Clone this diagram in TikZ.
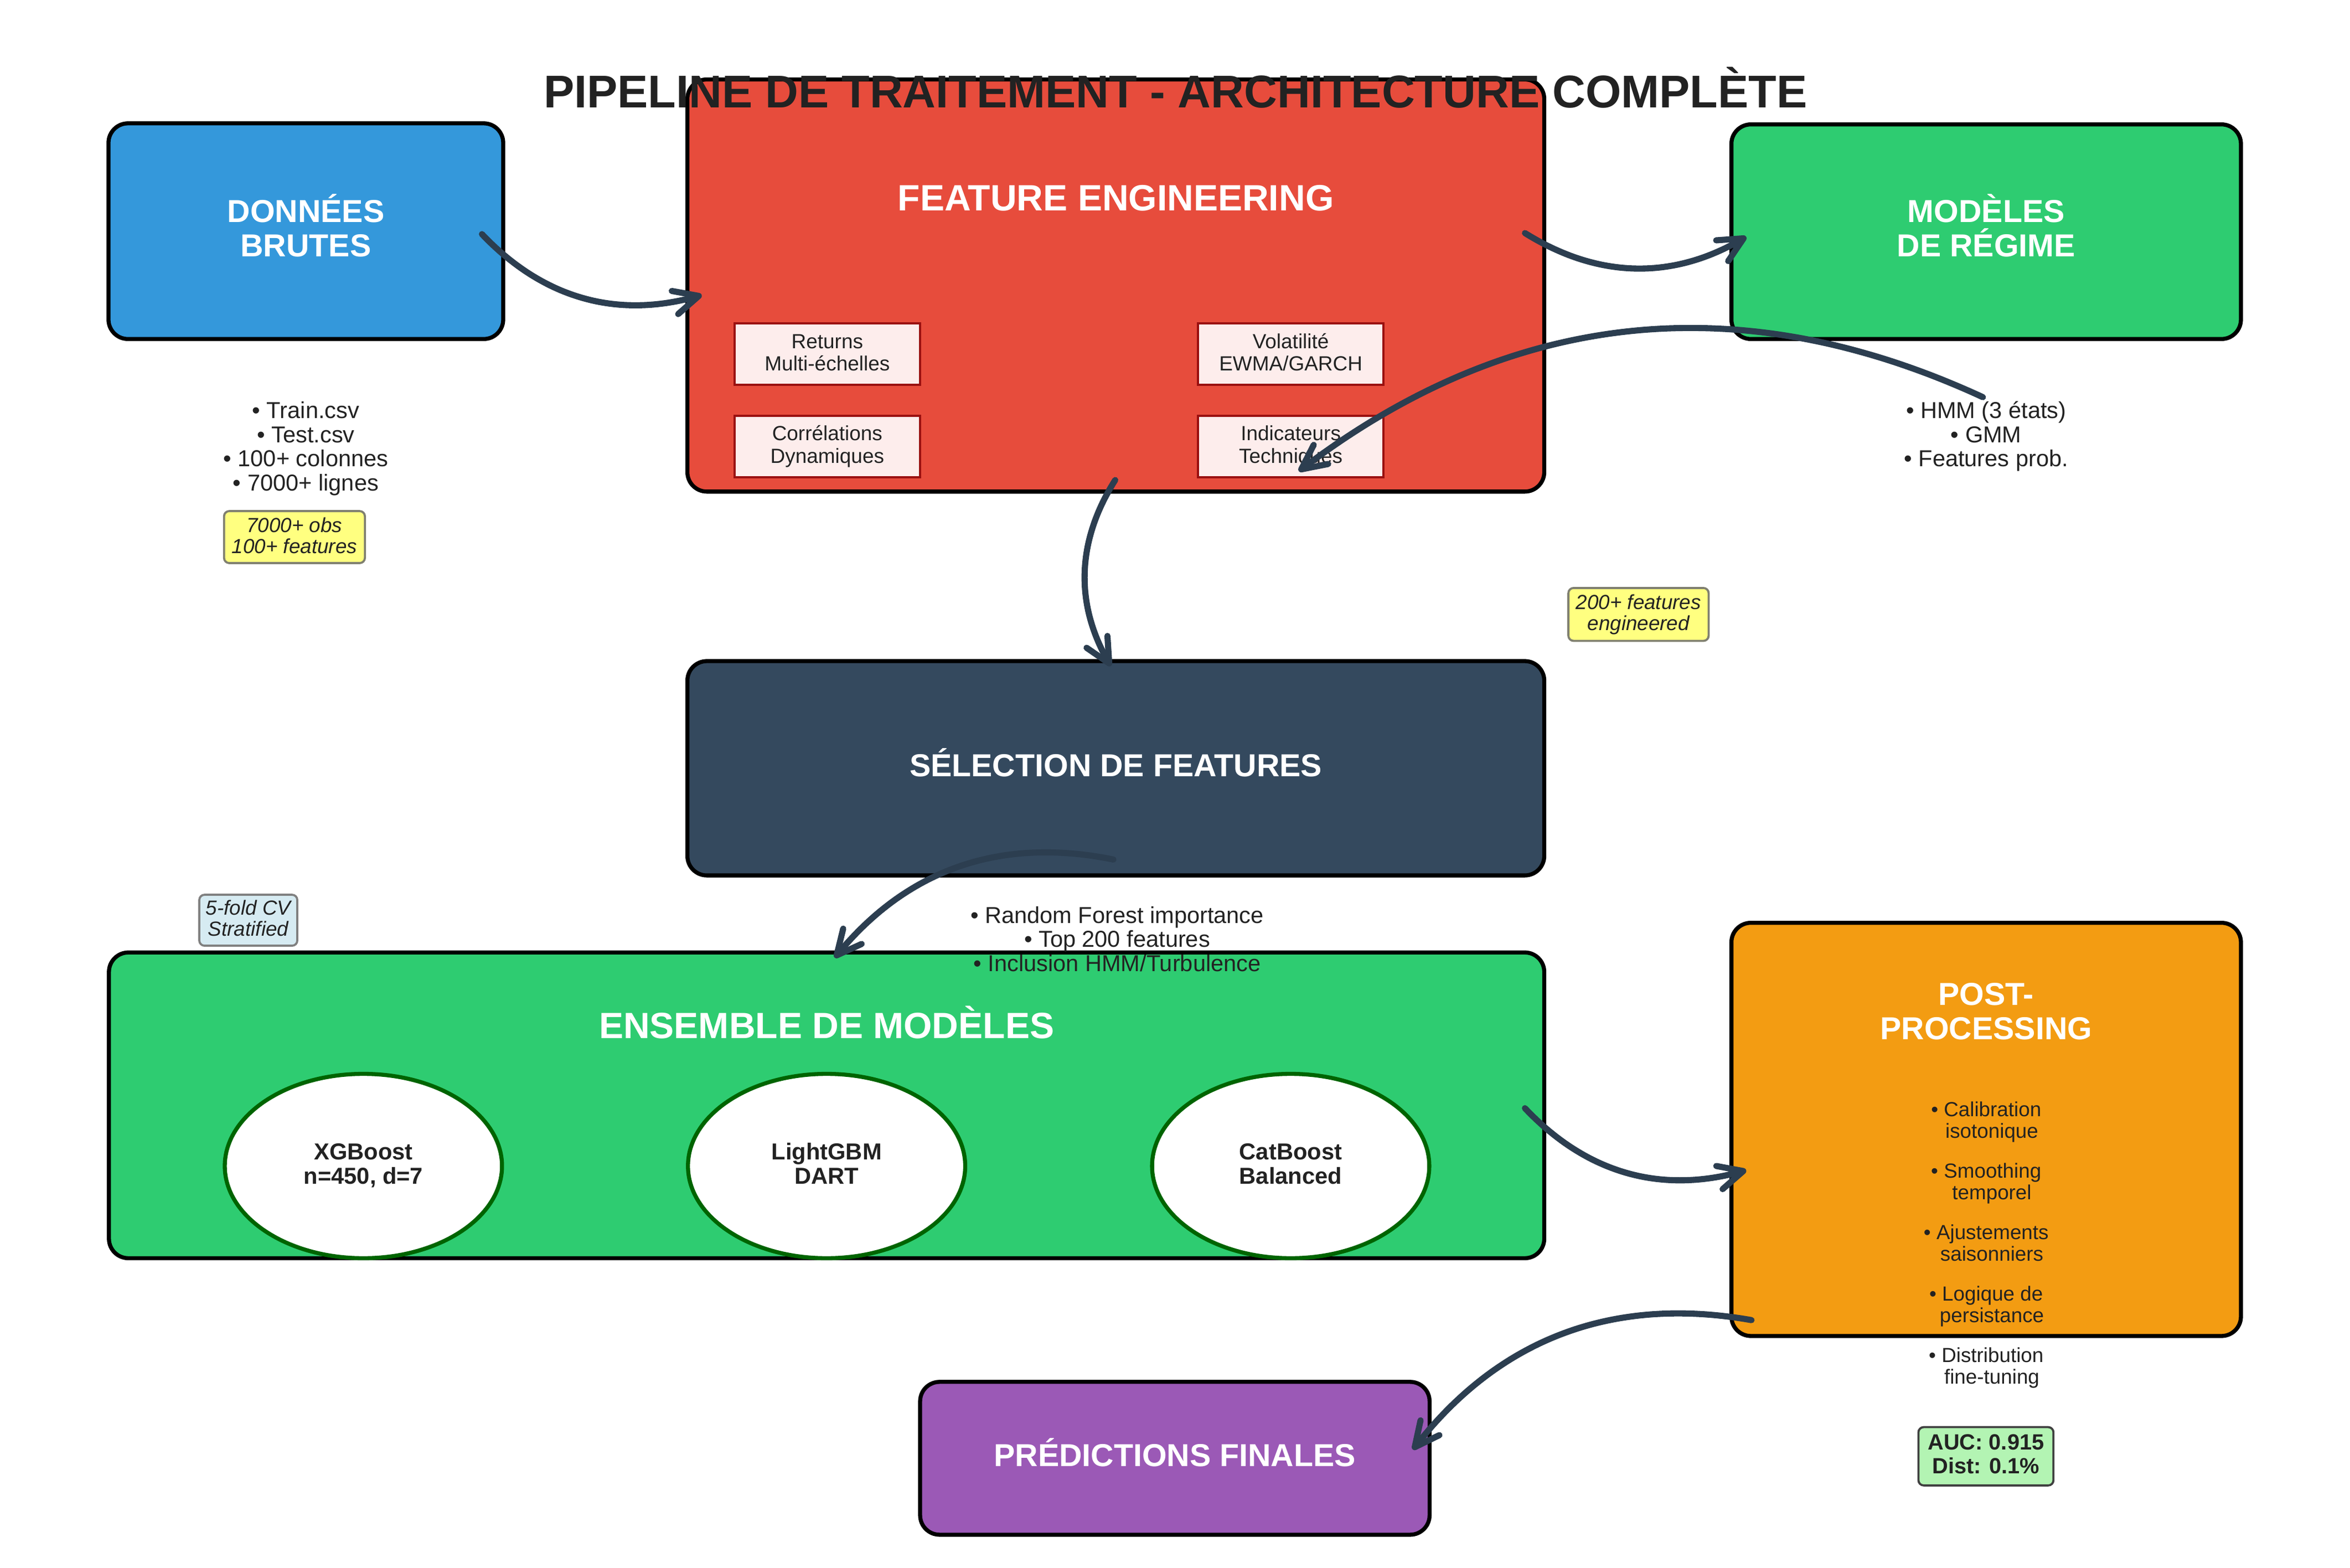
\documentclass[tikz,border=0pt]{standalone}
\usepackage{fontspec}
\setmainfont{Liberation Sans}
\usetikzlibrary{arrows.meta,calc,shapes.geometric}

\definecolor{cblue}{HTML}{3498DB}
\definecolor{cred}{HTML}{E74C3C}
\definecolor{cgreen}{HTML}{2ECC71}
\definecolor{cdark}{HTML}{34495E}
\definecolor{corange}{HTML}{F39C12}
\definecolor{cpurple}{HTML}{9B59B6}
\definecolor{carrow}{HTML}{2C3E50}
\definecolor{ctext}{HTML}{222222}
\definecolor{csubfill}{HTML}{FDEDEC}
\definecolor{csubline}{HTML}{9A1010}
\definecolor{cyellow}{HTML}{FFFF80}
\definecolor{cyline}{HTML}{808070}
\definecolor{cbluenote}{HTML}{D6EBF2}
\definecolor{cbluenoteline}{HTML}{808080}
\definecolor{cgreennote}{HTML}{B3F4B3}
\definecolor{cgreennoteline}{HTML}{404040}
\definecolor{cdkgreen}{HTML}{006400}

\newcommand\myfs[2]{\fontsize{#1pt}{#2pt}\selectfont\lineskiplimit=-100pt\lineskip=0pt\relax}

\tikzset{
  box/.style={draw=black, line width=2.7pt, rounded corners=13pt, inner sep=0pt},
  subbox/.style={draw=csubline, fill=csubfill, line width=1.4pt, inner sep=0pt,
                 minimum width=123.7pt, minimum height=41.2pt},
  model/.style={ellipse, draw=cdkgreen, fill=white, line width=2.7pt, inner sep=0pt,
                minimum width=185pt, minimum height=123pt},
  note/.style={draw=cyline, fill=cyellow, line width=1.4pt, rounded corners=3.5pt, inner sep=0pt},
  lbl/.style={text=ctext, align=center, inner sep=0pt, anchor=base},
  ttltxt/.style={font=\myfs{30.6}{33}\bfseries},
  bigtxt/.style={text=white, font=\myfs{24.4}{26}\bfseries},
  boxtxt/.style={text=white, font=\myfs{21.2}{23}\bfseries},
  subtxt/.style={font=\myfs{13.65}{14.85}},
  anntxt/.style={font=\myfs{15.36}{16.1}},
  notetxt/.style={font=\myfs{13.6}{14.1}\itshape},
  elltxt/.style={font=\myfs{15.4}{16.3}\bfseries},
  itemtxt/.style={font=\myfs{13.6}{14.1}},
  auctxt/.style={font=\myfs{14.7}{15.9}\bfseries},
  arc3/.style={to path={
      let \p1=(\tikztostart), \p2=(\tikztotarget),
          \n1={((\x1)+(\x2))/2+#1*((\y2)-(\y1))},
          \n2={((\y1)+(\y2))/2-#1*((\x2)-(\x1))}
      in .. controls ({(\x1)+2/3*((\n1)-(\x1))},{(\y1)+2/3*((\n2)-(\y1))})
         and ({(\x2)+2/3*((\n1)-(\x2))},{(\y2)+2/3*((\n2)-(\y2))}) .. (\tikztotarget)}},
  arc3/.default=0.3,
  flowarrow/.style={draw=carrow, line width=4.1pt, line cap=round,
      -{Straight Barb[length=16.5pt,width=16pt,round]}, arc3}
}

\begin{document}
\begin{tikzpicture}[x=1pt,y=-1pt]
\fill[white] (0,0) rectangle (1568.2,1046.2);
\useasboundingbox (0,0) rectangle (1568.2,1046.2);

% main boxes
\node[box, fill=cblue,   minimum width=263.4pt, minimum height=143.9pt] (donnees)  at (204.1,154.25) {};
\node[box, fill=cred,    minimum width=571.8pt, minimum height=275pt]   (feat)     at (744.6,190.5) {};
\node[box, fill=cgreen,  minimum width=340pt,   minimum height=143.2pt] (regime)   at (1325.4,154.6) {};
\node[box, fill=cdark,   minimum width=571.8pt, minimum height=143pt]   (select)   at (744.6,512.6) {};
\node[box, fill=cgreen,  minimum width=957.8pt, minimum height=204pt]   (ensemble) at (551.6,737.5) {};
\node[box, fill=corange, minimum width=340pt,   minimum height=275.7pt] (post)     at (1325.4,753.55) {};
\node[box, fill=cpurple, minimum width=340pt,   minimum height=102pt]   (pred)     at (784,973) {};

% feature sub-boxes (text anchored at the baseline of its last line)
\node[subbox] (sb1) at (552.05,236.25) {};
\node[subbox] (sb2) at (861.35,236.25) {};
\node[subbox] (sb3) at (552.05,297.9) {};
\node[subbox] (sb4) at (861.35,297.9) {};
\node[lbl, subtxt] (sbt1) at (552.05,247.25) {Returns\\Multi-échelles};
\node[lbl, subtxt] (sbt2) at (861.35,247.25) {Volatilité\\EWMA/GARCH};
\node[lbl, subtxt] (sbt3) at (552.05,308.9) {Corrélations\\Dynamiques};
\node[lbl, subtxt] (sbt4) at (861.35,308.9) {Indicateurs\\Techniques};

% model ellipses
\node[model] (xgb) at (242.5,778) {};
\node[model] (lgb) at (551.6,778) {};
\node[model] (cat) at (861.3,778) {};
\node[lbl, elltxt] (xgbt) at (242.5,790.15) {XGBoost\\n=450, d=7};
\node[lbl, elltxt] (lgbt) at (551.6,790.15) {LightGBM\\DART};
\node[lbl, elltxt] (catt) at (861.3,790.15) {CatBoost\\Balanced};

% notes
\node[note, minimum width=94pt, minimum height=34.7pt] (n1) at (196.5,358.35) {};
\node[lbl, notetxt] (n1t) at (196.5,369.3) {7000+ obs\\100+ features};
\node[note, minimum width=93.6pt, minimum height=35.3pt] (n2) at (1093.4,409.95) {};
\node[lbl, notetxt] (n2t) at (1093.4,420.5) {200+ features\\engineered};
\node[note, fill=cbluenote, draw=cbluenoteline, minimum width=65.4pt, minimum height=34pt] (n3) at (165.7,614) {};
\node[lbl, notetxt] (n3t) at (165.7,624.6) {5-fold CV\\Stratified};
\node[note, fill=cgreennote, draw=cgreennoteline, minimum width=90.1pt, minimum height=38.9pt] (n4) at (1325.25,971.65) {};
\node[lbl, auctxt] (n4t) at (1325.25,983.3) {AUC: 0.915\\Dist: 0.1\%};

% titles and labels
\node[lbl, ttltxt] (title) at (784.4,71.7) {PIPELINE DE TRAITEMENT - ARCHITECTURE COMPLÈTE};
\node[lbl, boxtxt] (donneest) at (204.1,171.4) {DONNÉES\\BRUTES};
\node[lbl, bigtxt] (featt) at (744.6,140.5) {FEATURE ENGINEERING};
\node[lbl, boxtxt] (regimet) at (1325.4,171.4) {MODÈLES\\DE RÉGIME};
\node[lbl, boxtxt] (selectt) at (744.6,518.2) {SÉLECTION DE FEATURES};
\node[lbl, bigtxt] (ensemblet) at (551.6,693) {ENSEMBLE DE MODÈLES};
\node[lbl, boxtxt] (postt) at (1325.4,693.5) {POST-\\PROCESSING};
\node[lbl, boxtxt] (predt) at (784,978.5) {PRÉDICTIONS FINALES};

\node[lbl, anntxt] (trainl) at (204.1,327.5) {• Train.csv\\• Test.csv\\• 100+ colonnes\\• 7000+ lignes};
\node[lbl, anntxt] (hmml) at (1325.4,311.4) {• HMM (3 états)\\• GMM\\• Features prob.};
\node[lbl, anntxt] (rfl) at (745.5,648.1) {• Random Forest importance\\• Top 200 features\\• Inclusion HMM/Turbulence};

\node[lbl, itemtxt] (p1) at (1325.4,759.2) {• Calibration\\\hspace*{0.556em}isotonique};
\node[lbl, itemtxt] (p2) at (1325.4,800.2) {• Smoothing\\\hspace*{0.556em}temporel};
\node[lbl, itemtxt] (p3) at (1325.4,841.2) {• Ajustements\\\hspace*{0.556em}saisonniers};
\node[lbl, itemtxt] (p4) at (1325.4,882.2) {• Logique de\\\hspace*{0.556em}persistance};
\node[lbl, itemtxt] (p5) at (1325.4,923.2) {• Distribution\\\hspace*{0.556em}fine-tuning};

% connector end points
\coordinate (a1) at (321.6,156.2);  \coordinate (a2) at (468.3,196.9);
\coordinate (b1) at (1017.6,155.5); \coordinate (b2) at (1165.3,158.0);
\coordinate (c1) at (1323.2,265.0); \coordinate (c2) at (866.7,314.4);
\coordinate (d1) at (744.2,320.3);  \coordinate (d2) at (741.2,444.4);
\coordinate (e1) at (743.0,573.5);  \coordinate (e2) at (557.0,639.0);
\coordinate (f1) at (1017.6,739.4); \coordinate (f2) at (1165.3,780.8);
\coordinate (g1) at (1168.8,880.8); \coordinate (g2) at (942.8,967.2);

\draw[flowarrow] (a1) to (a2);
\draw[flowarrow] (b1) to (b2);
\draw[flowarrow] (c1) to (c2);
\draw[flowarrow] (d1) to (d2);
\draw[flowarrow] (e1) to (e2);
\draw[flowarrow] (f1) to (f2);
\draw[flowarrow] (g1) to (g2);
\end{tikzpicture}
\end{document}
